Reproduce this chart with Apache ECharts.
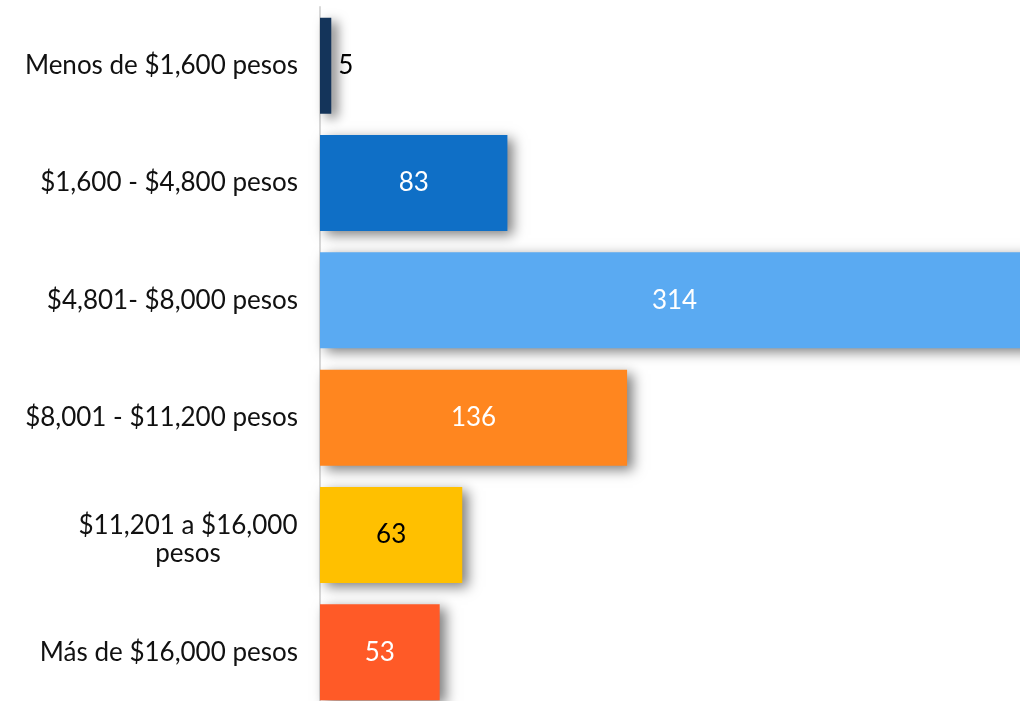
<!DOCTYPE html>
<html>
<head>
<meta charset="utf-8">
<script src="https://cdn.jsdelivr.net/npm/echarts@6/dist/echarts.min.js"></script>
<style>
html,body{margin:0;padding:0;background:#fff;}
#chart{width:1020px;height:701px;}
</style>
</head>
<body>
<div id="chart"></div>
<script>
const categories = [
  "Menos de $1,600 pesos",
  "$1,600 - $4,800 pesos",
  "$4,801- $8,000 pesos",
  "$8,001 - $11,200 pesos",
  "$11,201 a $16,000\npesos",
  "Más de $16,000 pesos"
];
const values = [5, 83, 314, 136, 63, 53];
const barColors = ["#14345A", "#0F6FC6", "#5AAAF2", "#FF861F", "#FFC000", "#FF5A27"];
const labelColors = ["#000000", "#ffffff", "#ffffff", "#ffffff", "#000000", "#ffffff"];
const labelPositions = ["right", "inside", "inside", "inside", "inside", "inside"];

const chart = echarts.init(document.getElementById('chart'));
const data = values.map((v, i) => ({
  value: v,
  itemStyle: { color: barColors[i] },
  label: { color: labelColors[i], position: labelPositions[i], distance: labelPositions[i] === 'right' ? 7 : 5 }
}));

chart.setOption({
  animation: false,
  grid: { left: 320, width: 709, top: 7, height: 704, containLabel: false, outerBoundsMode: 'none' },
  xAxis: { type: 'value', min: 0, max: 314, show: false },
  yAxis: {
    type: 'category',
    data: categories,
    inverse: true,
    axisLine: { show: true, lineStyle: { color: '#D9D9D9', width: 2 } },
    axisTick: { show: false },
    axisLabel: {
      margin: 22,
      color: '#111',
      fontFamily: 'Lato',
      fontSize: 26,
      formatter: function (v) {
        if (v.indexOf('\n') >= 0) {
          const parts = v.split('\n');
          return '{a|' + parts[0] + '}\n{b|' + parts[1] + '}';
        }
        return v;
      },
      rich: {
        a: { width: 220, align: 'center', fontFamily: 'Lato', fontSize: 26, color: '#111', lineHeight: 38 },
        b: { width: 220, align: 'center', fontFamily: 'Lato', fontSize: 26, color: '#111', lineHeight: 18 }
      }
    },
    splitLine: { show: false }
  },
  series: [{
    type: 'bar',
    data: data,
    barWidth: 96,
    itemStyle: {
      shadowColor: 'rgba(0,0,0,0.5)',
      shadowBlur: 12,
      shadowOffsetX: 6,
      shadowOffsetY: 4
    },
    label: {
      show: true,
      fontFamily: 'Lato',
      fontSize: 26
    }
  }]
});
</script>
</body>
</html>
